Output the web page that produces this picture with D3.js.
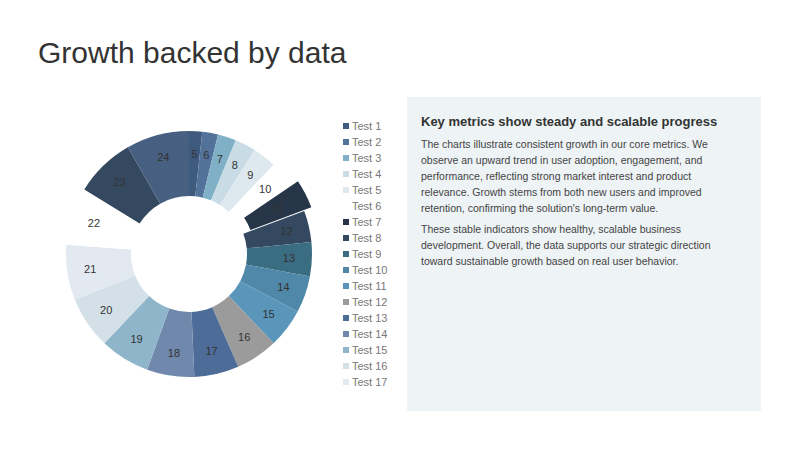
<!DOCTYPE html>
<html><head><meta charset="utf-8">
<script src="https://cdn.jsdelivr.net/npm/d3@7"></script>
<style>body{margin:0;background:#fff;font-family:"Liberation Sans",Arial,sans-serif}</style>
</head><body>
<script>
var values = [5,6,7,8,9,10,11,12,13,14,15,16,17,18,19,20,21,22,23,24];
var names = values.map(function(d,i){ return "Test " + (i+1); });
var colors = ["#3e5a7e","#52729a","#7fb0c6","#c9dbe5","#dde8ef","#ffffff","#263548","#34495f","#3b6d82","#4f88a8","#5a95ba","#9b9b9b","#4e6c98","#6f88ab","#8fb5ca","#d3e0e8","#e3e9f1","#ffffff","#34495f","#475f80"];
var legendCount = 17;

var svg = d3.select("body").append("svg").attr("width",800).attr("height",450);
svg.append("text").attr("x",38).attr("y",63).attr("font-size",30).attr("fill","#333").text("Growth backed by data");

var g = svg.append("g").attr("transform","translate(189,254)");
var pie = d3.pie().sort(null).value(function(d){ return d; });
var arc = d3.arc().innerRadius(58).outerRadius(123);
var arcs = pie(values);
g.selectAll("path").data(arcs).enter().append("path")
  .attr("d", arc).attr("fill", function(d,i){ return colors[i]; })
  .attr("transform", function(d,i){
    if (i !== 6) return null;
    var c = arc.centroid(d), l = Math.hypot(c[0],c[1]);
    return "translate(" + (c[0]/l*8) + "," + (c[1]/l*8) + ")";
  });
g.selectAll("text").data(arcs).enter().append("text")
  .attr("transform", function(d){ var c = d3.arc().innerRadius(75).outerRadius(125).centroid(d); return "translate(" + c + ")"; })
  .attr("text-anchor","middle").attr("dy","0.35em").attr("font-size",11).attr("fill","#333")
  .text(function(d){ return d.data; });

var lg = svg.append("g").attr("transform","translate(343,126)");
var item = lg.selectAll("g").data(names.slice(0,legendCount)).enter().append("g")
  .attr("transform", function(d,i){ return "translate(0," + (i*16) + ")"; });
item.append("rect").attr("x",0).attr("y",-3).attr("width",6).attr("height",6).attr("fill", function(d,i){ return colors[i]; });
item.append("text").attr("x",9).attr("dy","0.35em").attr("font-size",11).attr("fill","#777").text(function(d){ return d; });

svg.append("rect").attr("x",407).attr("y",97).attr("width",354).attr("height",314).attr("fill","#eef3f6");
svg.append("text").attr("x",421).attr("y",126).attr("font-size",13).attr("font-weight","bold").attr("fill","#333").text("Key metrics show steady and scalable progress");
var para = ["The charts illustrate consistent growth in our core metrics. We","observe an upward trend in user adoption, engagement, and","performance, reflecting strong market interest and product","relevance. Growth stems from both new users and improved","retention, confirming the solution's long-term value.",null,"These stable indicators show healthy, scalable business","development. Overall, the data supports our strategic direction","toward sustainable growth based on real user behavior."];
var y = 148;
para.forEach(function(t){
  if (t === null) { y += 5; return; }
  svg.append("text").attr("x",421).attr("y",y).attr("font-size",10.5).attr("fill","#444").text(t);
  y += 16;
});
</script>
</body></html>
